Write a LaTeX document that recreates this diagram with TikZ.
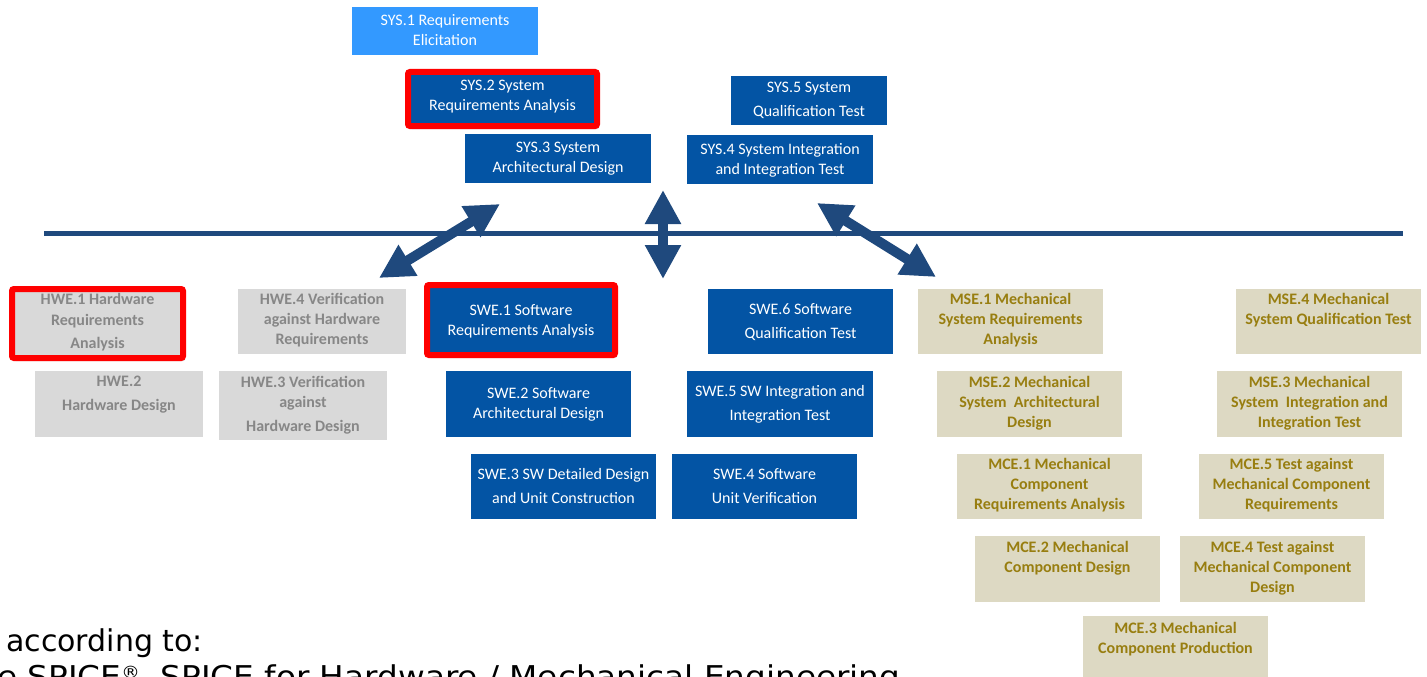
\documentclass[tikz,border=0pt]{standalone}
\usepackage{fontspec}
\setmainfont{Carlito}
\newfontfamily\refsans{DejaVu Sans}
\newfontfamily\refsanswide[FakeStretch=1.09]{DejaVu Sans}
\usetikzlibrary{arrows.meta,shadows}

\definecolor{sysblue}{RGB}{3,84,164}
\definecolor{elicitblue}{RGB}{51,153,255}
\definecolor{hwfill}{RGB}{217,217,217}
\definecolor{hwtext}{RGB}{135,135,135}
\definecolor{mechfill}{RGB}{221,217,195}
\definecolor{mechtext}{RGB}{152,126,16}
\definecolor{lineblue}{RGB}{31,73,125}
\definecolor{focusred}{RGB}{255,0,0}

% process box: name, style, x1, y1, x2, y2
\newcommand\procbox[6]{%
  \node[#2, minimum width=#5-#3, minimum height=#6-#4, anchor=north west]
    (#1) at (#3,#4) {};}
% process label: box name, style, vertical centre, text
\newcommand\proclabel[4]{%
  \node[#2] (#1-t) at (#1.center |- 0,#3) {#4};}

\tikzset{
  box/.style={inner sep=0pt, outer sep=0pt},
  sysbox/.style={box, fill=sysblue},
  elicitbox/.style={box, fill=elicitblue},
  hwbox/.style={box, fill=hwfill},
  mechbox/.style={box, fill=mechfill},
  focus/.style={draw=focusred, line width=6pt, rounded corners=2pt,
    drop shadow={shadow xshift=2pt, shadow yshift=-3pt, opacity=0.35}},
  boxtext/.style={inner sep=0pt, align=center, font=\fontsize{16}{20}\selectfont},
  systext/.style={boxtext, text=white},
  hwtext/.style={boxtext, text=hwtext, font=\bfseries\fontsize{16}{20}\selectfont},
  mechtext/.style={boxtext, text=mechtext, font=\bfseries\fontsize{16}{20}\selectfont},
  levelline/.style={draw=lineblue, line width=5pt},
  bigarrow/.style={draw=lineblue, line width=10pt,
    {Triangle[length=34pt,width=34pt]}-{Triangle[length=34pt,width=34pt]}},
  srctext/.style={inner sep=0pt, anchor=base west, font=\refsans\fontsize{30}{34}\selectfont}
}

\begin{document}
\begin{tikzpicture}[x=1pt,y=-1pt]
\useasboundingbox (0,0) rectangle (1427,677);
\clip (0,0) rectangle (1427,677);

% system level
\procbox{sys1}{elicitbox}{352}{7}{538}{55}
\proclabel{sys1}{systext}{30}{SYS.1 Requirements\\Elicitation}
\procbox{sys2}{sysbox,focus}{408}{72}{597}{126}
\proclabel{sys2}{systext}{97}{SYS.2 System\\Requirements Analysis}
\procbox{sys3}{sysbox}{465}{134}{651}{183}
\proclabel{sys3}{systext}{158.5}{SYS.3 System\\Architectural Design}
\procbox{sys4}{sysbox}{687}{135}{873}{184}
\proclabel{sys4}{systext}{160}{SYS.4 System Integration\\and Integration Test}
\procbox{sys5}{sysbox}{731}{76}{887}{125}
\proclabel{sys5}{systext}{100}{SYS.5 System\\[4pt]Qualification Test}

% separator between system and domain levels
\coordinate (lineL) at (44,233);
\coordinate (lineR) at (1403,233);
\draw[levelline] (lineL) -- (lineR);

% interfaces between the levels
\coordinate (hwEnd) at (379,278);
\coordinate (sysDesEnd) at (500,204);
\coordinate (swTop) at (663,190);
\coordinate (swBot) at (663,279);
\coordinate (sysIntEnd) at (817,203);
\coordinate (mechEnd) at (936,277);
\draw[bigarrow] (hwEnd) -- (sysDesEnd);
\draw[bigarrow] (swBot) -- (swTop);
\draw[bigarrow] (sysIntEnd) -- (mechEnd);

% hardware engineering
\procbox{hwe1}{hwbox,focus}{12}{289}{183}{358}
\proclabel{hwe1}{hwtext}{322}{HWE.1 Hardware\\[1pt]Requirements\\[3pt]Analysis}
\procbox{hwe4}{hwbox}{238}{289}{406}{354}
\proclabel{hwe4}{hwtext}{320}{HWE.4 Verification\\against Hardware\\Requirements}
\procbox{hwe2}{hwbox}{35}{371}{203}{437}
\proclabel{hwe2}{hwtext}{395}{HWE.2\\[4pt]Hardware Design}
\procbox{hwe3}{hwbox}{219}{371}{387}{440}
\proclabel{hwe3}{hwtext}{405}{HWE.3 Verification\\against\\[4pt]Hardware Design}

% software engineering
\procbox{swe1}{sysbox,focus}{427}{285}{615}{355}
\proclabel{swe1}{systext}{321}{SWE.1 Software\\Requirements Analysis}
\procbox{swe2}{sysbox}{446}{371}{631}{437}
\proclabel{swe2}{systext}{404}{SWE.2 Software\\Architectural Design}
\procbox{swe3}{sysbox}{471}{454}{656}{519}
\proclabel{swe3}{systext}{486}{SWE.3 SW Detailed Design\\[4pt]and Unit Construction}
\procbox{swe4}{sysbox}{672}{454}{857}{519}
\proclabel{swe4}{systext}{486}{SWE.4 Software\\[4pt]Unit Verification}
\procbox{swe5}{sysbox}{687}{371}{873}{437}
\proclabel{swe5}{systext}{404}{SWE.5 SW Integration and\\[4pt]Integration Test}
\procbox{swe6}{sysbox}{708}{289}{893}{354}
\proclabel{swe6}{systext}{322}{SWE.6 Software\\[4pt]Qualification Test}

% mechanical engineering
\procbox{mse1}{mechbox}{918}{289}{1103}{354}
\proclabel{mse1}{mechtext}{320.5}{MSE.1 Mechanical\\System Requirements\\Analysis}
\procbox{mse4}{mechbox}{1236}{289}{1421}{354}
\proclabel{mse4}{mechtext}{310}{MSE.4 Mechanical\\System Qualification Test}
\procbox{mse2}{mechbox}{937}{371}{1122}{437}
\proclabel{mse2}{mechtext}{403}{MSE.2 Mechanical\\System~~Architectural\\Design}
\procbox{mse3}{mechbox}{1217}{371}{1402}{437}
\proclabel{mse3}{mechtext}{403}{MSE.3 Mechanical\\System~~Integration and\\Integration Test}
\procbox{mce1}{mechbox}{957}{454}{1142}{519}
\proclabel{mce1}{mechtext}{485.5}{MCE.1 Mechanical\\Component\\Requirements Analysis}
\procbox{mce5}{mechbox}{1199}{454}{1384}{519}
\proclabel{mce5}{mechtext}{485.5}{MCE.5 Test against\\Mechanical Component\\Requirements}
\procbox{mce2}{mechbox}{975}{536}{1160}{602}
\proclabel{mce2}{mechtext}{558}{MCE.2 Mechanical\\Component Design}
\procbox{mce4}{mechbox}{1180}{536}{1365}{602}
\proclabel{mce4}{mechtext}{568.5}{MCE.4 Test against\\Mechanical Component\\Design}
\procbox{mce3}{mechbox}{1083}{616}{1268}{682}
\proclabel{mce3}{mechtext}{639}{MCE.3 Mechanical\\Component Production}

% source reference
\node[srctext] (src1) at (6,651) {according to:};
\node[srctext, font=\refsanswide\fontsize{30}{34}\selectfont] (src2) at (-3,687)
  {e SPICE\raisebox{9pt}{\fontsize{17}{17}\selectfont ®}, SPICE for Hardware / Mechanical Engineering};
\end{tikzpicture}
\end{document}
